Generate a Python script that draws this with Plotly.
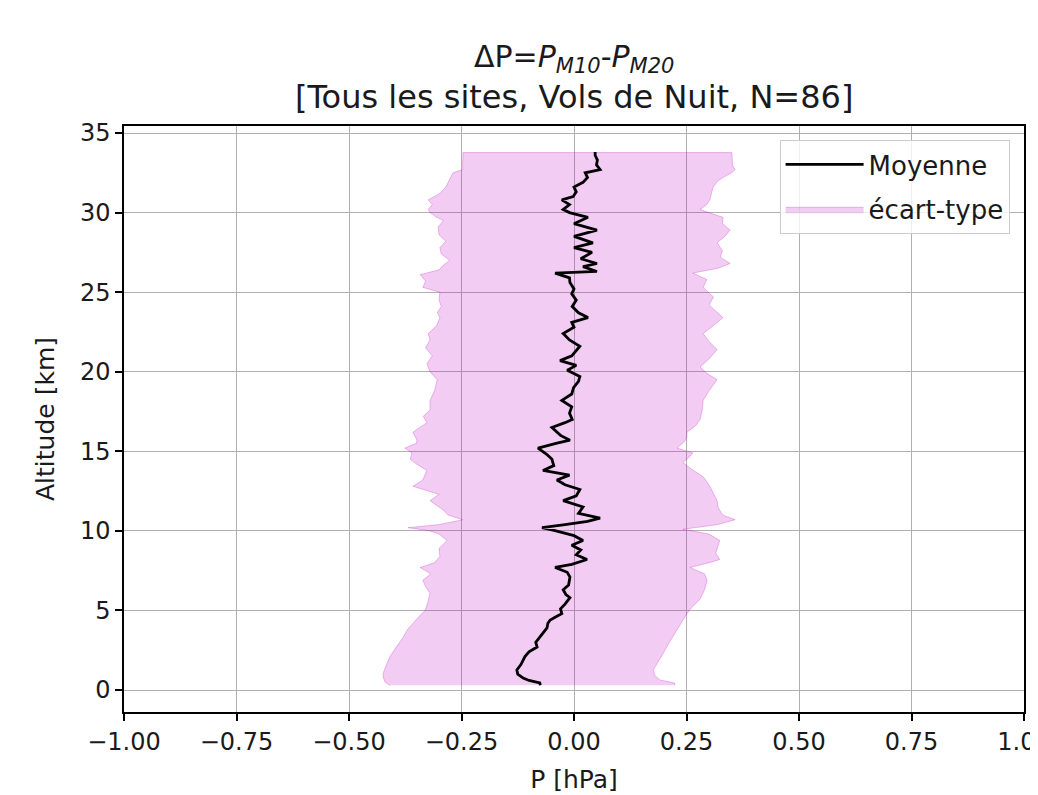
import plotly.graph_objects as go

# Mean profile (altitude km, ΔP hPa)
alt_mean = [0.3, 0.45, 0.6, 0.75, 1.0, 1.26, 1.6, 2.1, 2.4, 2.7, 3.0, 3.3, 3.6, 3.9, 4.2, 4.4, 4.6, 4.8,
            5.1, 5.4, 5.8, 6.0, 6.3, 6.6, 7.1, 7.4, 7.7, 7.9, 8.2, 8.5, 8.8, 9.1, 9.4, 9.7, 10.0, 10.2,
            10.4, 10.6, 10.8, 11.1, 11.5, 11.9, 12.2, 12.6, 12.9, 13.2, 13.5, 13.8, 14.1, 14.5, 14.8,
            15.2, 15.5, 15.7, 16.0, 16.5, 16.8, 17.0, 17.4, 17.8, 18.2, 18.6, 19.0, 19.4, 19.7, 20.1,
            20.4, 20.7, 21.0, 21.3, 21.6, 22.0, 22.4, 22.8, 23.1, 23.4, 23.7, 24.1, 24.5, 24.9, 25.2,
            25.6, 25.9, 26.2, 26.3, 26.6, 26.8, 27.1, 27.5, 27.8, 28.1, 28.5, 28.9, 29.3, 29.7, 30.0,
            30.2, 30.5, 30.8, 31.0, 31.3, 31.6, 31.9, 32.2, 32.5, 32.7, 33.0, 33.3, 33.6, 33.8]
mean_dp = [-0.075, -0.076, -0.100, -0.113, -0.125, -0.127, -0.118, -0.109, -0.100, -0.082, -0.085,
           -0.076, -0.068, -0.060, -0.058, -0.053, -0.040, -0.027, -0.030, -0.020, -0.009, -0.018,
           -0.024, -0.012, -0.009, -0.015, -0.042, -0.005, 0.029, 0.005, 0.015, -0.005, 0.020, 0.000,
           -0.040, -0.071, -0.020, 0.030, 0.058, 0.010, 0.020, -0.024, 0.005, 0.013, -0.020, -0.038,
           -0.010, -0.069, -0.045, -0.049, -0.060, -0.080, -0.040, -0.009, -0.030, -0.049, -0.020,
           -0.004, -0.010, -0.005, -0.027, -0.005, -0.001, 0.010, 0.013, -0.015, 0.005, -0.031,
           -0.005, 0.005, 0.013, -0.010, -0.024, 0.000, -0.005, 0.031, 0.010, -0.004, 0.005, -0.005,
           0.000, -0.009, -0.010, -0.042, 0.051, 0.020, 0.051, 0.015, 0.040, 0.000, 0.042, 0.000,
           0.051, 0.000, 0.031, -0.010, -0.024, -0.010, -0.027, -0.002, 0.005, 0.000, 0.020, 0.030,
           0.025, 0.058, 0.050, 0.052, 0.047, 0.047]

# Lower bound (mean - std)
alt_low = [0.3, 0.5, 0.8, 1.07, 1.5, 2.1, 2.7, 3.3, 3.8, 4.2, 4.6, 5.0, 5.5, 6.1, 6.5, 6.9, 7.3, 7.7,
           8.0, 8.4, 8.9, 9.4, 9.8, 10.0, 10.2, 10.4, 10.7, 11.0, 11.3, 11.9, 12.3, 12.8, 13.2, 13.8,
           14.2, 14.5, 14.9, 15.2, 15.5, 15.7, 16.2, 16.8, 17.2, 17.6, 18.2, 18.8, 19.5, 20.0, 20.5,
           21.0, 21.5, 22.0, 22.4, 22.9, 23.4, 23.7, 24.1, 24.5, 25.0, 25.3, 25.7, 26.1, 26.4, 26.7,
           27.0, 27.4, 27.8, 28.2, 28.6, 29.1, 29.5, 29.7, 30.0, 30.2, 30.5, 30.8, 31.2, 31.6, 32.1,
           32.5, 32.7, 33.0, 33.4, 33.77]
low_dp = [-0.409, -0.420, -0.424, -0.424, -0.418, -0.409, -0.395, -0.380, -0.370, -0.358, -0.345,
          -0.331, -0.325, -0.320, -0.330, -0.336, -0.318, -0.342, -0.310, -0.298, -0.300, -0.282,
          -0.300, -0.320, -0.369, -0.300, -0.247, -0.280, -0.290, -0.320, -0.300, -0.358, -0.336,
          -0.327, -0.350, -0.364, -0.360, -0.376, -0.350, -0.349, -0.358, -0.327, -0.335, -0.320,
          -0.320, -0.310, -0.304, -0.320, -0.327, -0.315, -0.330, -0.320, -0.324, -0.305, -0.298,
          -0.304, -0.295, -0.300, -0.298, -0.336, -0.330, -0.342, -0.300, -0.290, -0.276, -0.295,
          -0.298, -0.285, -0.300, -0.302, -0.290, -0.305, -0.320, -0.324, -0.315, -0.324, -0.298,
          -0.285, -0.276, -0.269, -0.247, -0.248, -0.247, -0.247]

# Upper bound (mean + std)
alt_high = [0.3, 0.44, 0.63, 0.9, 1.26, 1.8, 2.3, 3.0, 3.8, 4.3, 4.8, 5.2, 5.7, 6.3, 6.9, 7.3, 7.7,
            8.0, 8.2, 8.6, 9.0, 9.4, 9.8, 10.1, 10.4, 10.7, 11.0, 11.5, 11.9, 12.4, 12.8, 13.1, 13.4,
            13.9, 14.3, 14.6, 14.9, 15.2, 15.6, 15.9, 16.2, 16.6, 17.0, 17.6, 18.2, 18.8, 19.5, 19.9,
            20.3, 20.8, 21.4, 21.9, 22.4, 22.9, 23.4, 23.7, 24.2, 24.7, 25.3, 25.8, 26.2, 26.5, 26.8,
            27.2, 27.6, 28.1, 28.5, 28.9, 29.3, 29.7, 30.0, 30.2, 30.5, 30.8, 31.2, 31.6, 32.0, 32.2,
            32.5, 32.7, 33.0, 33.4, 33.77]
high_dp = [0.224, 0.224, 0.191, 0.180, 0.176, 0.188, 0.198, 0.212, 0.229, 0.240, 0.251, 0.262, 0.280,
           0.290, 0.296, 0.290, 0.258, 0.300, 0.324, 0.315, 0.320, 0.324, 0.300, 0.242, 0.320, 0.358,
           0.330, 0.320, 0.318, 0.309, 0.302, 0.295, 0.287, 0.260, 0.242, 0.255, 0.264, 0.229, 0.245,
           0.251, 0.251, 0.270, 0.280, 0.285, 0.287, 0.300, 0.318, 0.295, 0.280, 0.300, 0.318, 0.300,
           0.287, 0.310, 0.331, 0.318, 0.300, 0.310, 0.287, 0.295, 0.264, 0.320, 0.347, 0.325, 0.330,
           0.318, 0.335, 0.347, 0.330, 0.331, 0.300, 0.280, 0.295, 0.302, 0.305, 0.309, 0.320, 0.331,
           0.350, 0.358, 0.352, 0.351, 0.351]

x_ticks = [-1.0, -0.75, -0.5, -0.25, 0.0, 0.25, 0.5, 0.75, 1.0]
y_ticks = [0, 5, 10, 15, 20, 25, 30, 35]

title_line1 = "ΔP=<i>P</i><sub><i>M10</i></sub>-<i>P</i><sub><i>M20</i></sub>"
title_line2 = "[Tous les sites, Vols de Nuit, N=86]"

FONT = "DejaVu Sans"
TXT = "#1a1a1a"

fig = go.Figure()

# Std band polygon
fig.add_trace(go.Scatter(
    x=low_dp + high_dp[::-1],
    y=alt_low + alt_high[::-1],
    fill="toself",
    fillcolor="rgba(191,0,191,0.2)",
    line=dict(color="rgba(191,0,191,0.25)", width=1),
    mode="lines",
    name="écart-type",
    legendgroup="b", legendrank=2,
))

fig.add_trace(go.Scatter(
    x=mean_dp, y=alt_mean, mode="lines",
    line=dict(color="black", width=2.8),
    name="Moyenne",
    legendgroup="a", legendrank=1,
))

fig.update_layout(
    width=1030, height=787,
    margin=dict(l=116, r=14, t=118, b=83, autoexpand=False),
    paper_bgcolor="white", plot_bgcolor="white",
    font=dict(family=FONT, size=24, color=TXT),
    legend=dict(
        x=0.984, y=0.976, xanchor="right", yanchor="top",
        bgcolor="rgba(255,255,255,0.8)", bordercolor="#cccccc", borderwidth=1,
        font=dict(family=FONT, size=26, color=TXT),
        tracegroupgap=8, itemwidth=78,
    ),
    showlegend=True,
    annotations=[
        dict(text=title_line1, xref="paper", yref="paper", x=0.5, y=1.116,
             xanchor="center", yanchor="middle", showarrow=False,
             font=dict(family=FONT, size=30, color=TXT)),
        dict(text=title_line2, xref="paper", yref="paper", x=0.5, y=1.0495,
             xanchor="center", yanchor="middle", showarrow=False,
             font=dict(family=FONT, size=32, color=TXT)),
    ],
)

fig.update_xaxes(
    range=[-1, 1], tickvals=x_ticks, tickformat=".2f",
    ticklabeloverflow="allow", automargin=False,
    showgrid=True, gridcolor="#b0b0b0", gridwidth=1.3,
    showline=True, linecolor="black", linewidth=1.5, mirror=True,
    ticks="outside", ticklen=7, tickwidth=1.5, tickcolor="black",
    zeroline=False,
    title=dict(text="P [hPa]", font=dict(family=FONT, size=25), standoff=16),
)
fig.update_yaxes(
    range=[-1.38, 35.44], tickvals=y_ticks, automargin=False,
    showgrid=True, gridcolor="#b0b0b0", gridwidth=1.3,
    showline=True, linecolor="black", linewidth=1.5, mirror=True,
    ticks="outside", ticklen=7, tickwidth=1.5, tickcolor="black",
    zeroline=False,
    title=dict(text="Altitude [km]", font=dict(family=FONT, size=25), standoff=18),
)

fig.write_html("out.html")
